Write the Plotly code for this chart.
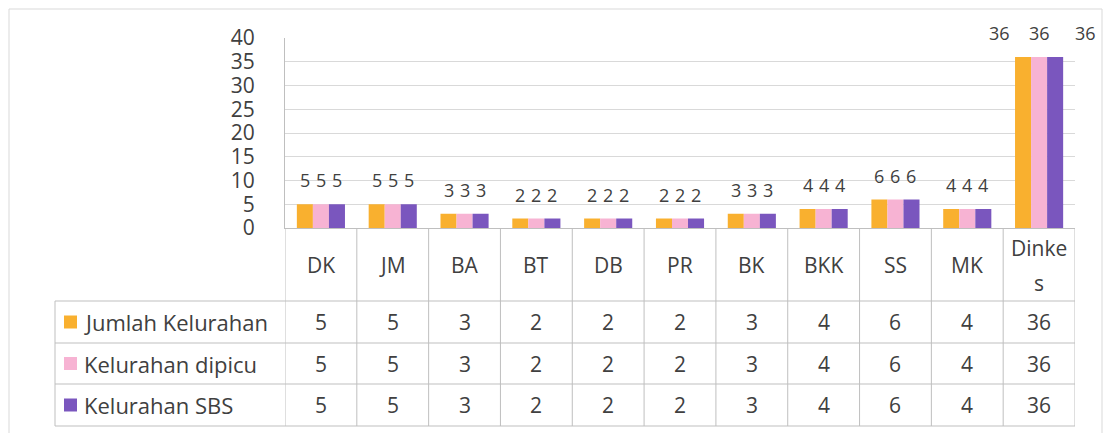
import plotly.graph_objects as go

# Kelurahan counts per unit, shown as grouped bars plus a data table underneath
categories = ["DK", "JM", "BA", "BT", "DB", "PR", "BK", "BKK", "SS", "MK", "Dinkes"]
series_names = ["Jumlah Kelurahan", "Kelurahan dipicu", "Kelurahan SBS"]
jumlah_kelurahan = [5, 5, 3, 2, 2, 2, 3, 4, 6, 4, 36]
kelurahan_dipicu = [5, 5, 3, 2, 2, 2, 3, 4, 6, 4, 36]
kelurahan_sbs = [5, 5, 3, 2, 2, 2, 3, 4, 6, 4, 36]
y_ticks = [0, 5, 10, 15, 20, 25, 30, 35, 40]

series_values = [jumlah_kelurahan, kelurahan_dipicu, kelurahan_sbs]
colors = ["#F9B02F", "#F7B3D3", "#7A56BE"]

W, H = 1107, 433
FONT = "Open Sans"
TEXT = "#404040"
GRID = "#D9D9D9"
TABLE_LINE = "#BFBFBF"
BARGAP = 0.33


def px_x(p):
    return p / W


def px_y(p):
    return 1 - p / H


# pixel geometry of the plot area and of the table rows
PLOT_L, PLOT_R, PLOT_T, PLOT_B = 285, 1075, 38, 228
TABLE_L = 55
ROW_LINES = [301, 343, 384, 426]
HEADER_MID = (PLOT_B + ROW_LINES[0]) / 2
ROW_MIDS = [(ROW_LINES[k] + ROW_LINES[k + 1]) / 2 for k in range(3)]

fig = go.Figure()
for name, vals, col in zip(series_names, series_values, colors):
    fig.add_trace(go.Bar(name=name, x=categories, y=vals, marker=dict(color=col, line=dict(width=0)),
                         showlegend=False, hoverinfo="x+y+name"))

annotations = []
shapes = []

# value labels above each bar; the two-digit labels of the last group are spread apart
bar_w = (1 - BARGAP) / 3
crowded_shift = [-24, 0, 30]
for s, vals in enumerate(series_values):
    for i, v in enumerate(vals):
        shift = crowded_shift[s] if len(str(v)) > 1 else 0
        annotations.append(dict(x=i + (s - 1) * bar_w, y=v, xref="x", yref="y", text=str(v),
                                showarrow=False, yanchor="middle", yshift=24, xshift=shift,
                                font=dict(family=FONT, size=18, color=TEXT)))

# table header: category names (long names wrap inside the cell)
for i, cat in enumerate(categories):
    lines = [cat] if len(cat) <= 3 else [cat[:5], cat[5:]]
    if len(lines) == 1:
        annotations.append(dict(x=i, y=px_y(HEADER_MID), xref="x", yref="paper", text=cat,
                                showarrow=False, yanchor="middle",
                                font=dict(family=FONT, size=21, color=TEXT)))
    else:
        for k, ln in enumerate(lines):
            annotations.append(dict(x=i, y=px_y(HEADER_MID - 17 + 35 * k), xref="x", yref="paper",
                                    text=ln, showarrow=False, yanchor="middle",
                                    font=dict(family=FONT, size=21, color=TEXT)))

# table body: legend key + series name, then the values
for r, (name, vals, col) in enumerate(zip(series_names, series_values, colors)):
    ymid = ROW_MIDS[r]
    shapes.append(dict(type="rect", xref="paper", yref="paper",
                       x0=px_x(64), x1=px_x(77), y0=px_y(ymid + 6.5), y1=px_y(ymid - 6.5),
                       fillcolor=col, line=dict(width=0)))
    annotations.append(dict(x=px_x(82), y=px_y(ymid), xref="paper", yref="paper", text=name,
                            showarrow=False, xanchor="left", yanchor="middle",
                            font=dict(family=FONT, size=22, color=TEXT)))
    for i, v in enumerate(vals):
        annotations.append(dict(x=i, y=px_y(ymid), xref="x", yref="paper", text=str(v),
                                showarrow=False, yanchor="middle",
                                font=dict(family=FONT, size=21, color=TEXT)))

# table grid lines
for yl in ROW_LINES:
    shapes.append(dict(type="line", xref="paper", yref="paper", x0=px_x(TABLE_L), x1=px_x(PLOT_R),
                       y0=px_y(yl), y1=px_y(yl), line=dict(color=TABLE_LINE, width=1)))
shapes.append(dict(type="line", xref="paper", yref="paper", x0=px_x(TABLE_L), x1=px_x(TABLE_L),
                   y0=px_y(ROW_LINES[0]), y1=px_y(ROW_LINES[-1]), line=dict(color=TABLE_LINE, width=1)))
for i in range(len(categories) + 1):
    shapes.append(dict(type="line", xref="x", yref="paper", x0=i - 0.5, x1=i - 0.5,
                       y0=px_y(PLOT_B), y1=px_y(ROW_LINES[-1]), line=dict(color=TABLE_LINE, width=1)))

# chart frame (its lower edge runs off the bottom)
shapes.append(dict(type="rect", xref="paper", yref="paper", x0=px_x(9), x1=px_x(1102),
                   y0=-0.01, y1=px_y(9), line=dict(color=GRID, width=1), fillcolor="rgba(0,0,0,0)"))

fig.update_layout(
    width=W, height=H,
    margin=dict(l=0, r=0, t=0, b=0, pad=0, autoexpand=False),
    paper_bgcolor="white", plot_bgcolor="white",
    barmode="group", bargap=BARGAP, bargroupgap=0,
    font=dict(family=FONT, color=TEXT),
    xaxis=dict(domain=[px_x(PLOT_L), px_x(PLOT_R)], type="category", range=[-0.5, len(categories) - 0.5],
               showticklabels=False, showgrid=False, zeroline=False, ticks="", automargin=False,
               showline=True, linecolor=TABLE_LINE, linewidth=1),
    yaxis=dict(domain=[px_y(PLOT_B), px_y(PLOT_T)], range=[0, 40], tickvals=y_ticks,
               showgrid=True, gridcolor=GRID, gridwidth=1, zeroline=False, automargin=False,
               showline=True, linecolor=TABLE_LINE, linewidth=1, ticks="",
               ticklabelstandoff=25, tickfont=dict(family=FONT, size=21, color=TEXT)),
    annotations=annotations,
    shapes=shapes,
)

fig.write_html("out.html")
